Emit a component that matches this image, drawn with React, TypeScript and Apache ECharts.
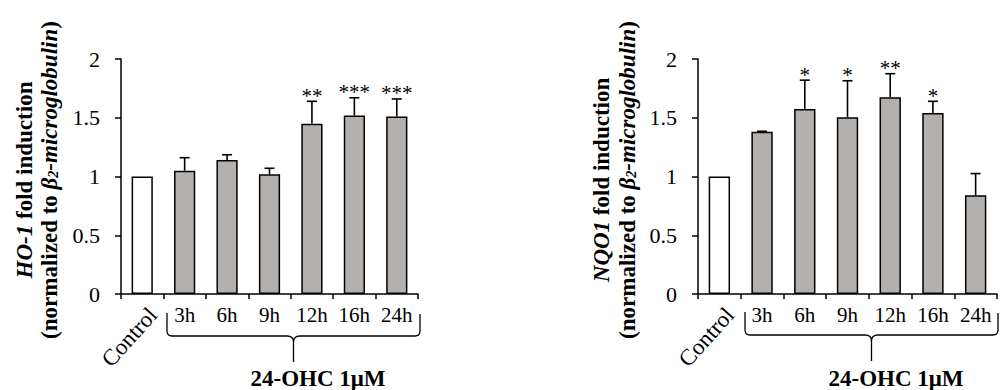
import React, { useEffect, useRef } from "react";
import * as echarts from "echarts";

const categories = ["Control", "3h", "6h", "9h", "12h", "16h", "24h"];
const ho1Means = [1.0, 1.05, 1.14, 1.02, 1.45, 1.52, 1.51];
const ho1Errors = [0, 0.11, 0.045, 0.05, 0.19, 0.15, 0.15];
const ho1Stars = ["", "", "", "", "**", "***", "***"];
const nqo1Means = [1.0, 1.38, 1.575, 1.505, 1.675, 1.54, 0.84];
const nqo1Errors = [0, 0.005, 0.245, 0.31, 0.2, 0.1, 0.185];
const nqo1Stars = ["", "", "*", "*", "**", "*", ""];
const yMin = 0;
const yMax = 2;
const yStep = 0.5;
const groupLabel = "24-OHC 1\u03bcM";

const FONT = "'Liberation Serif', 'Times New Roman', serif";
const BAR_GRAY = "#b4b0ae";

const bracePath =
  "M0,0 L0,18 Q0,23 5,23 L120,23 Q126.5,23 126.5,29 L126.5,49 M126.5,29 Q126.5,23 133,23 L248,23 Q253,23 253,18 L253,1";
echarts.graphic.registerShape("brace", echarts.graphic.extendPath(bracePath, {}));

function makeErrorSeries(means: number[], errors: number[], stars: string[], axisIdx: number) {
  return {
    type: "custom",
    xAxisIndex: axisIdx,
    yAxisIndex: axisIdx,
    z: 5,
    data: categories.map((_, i) => [i, means[i], errors[i]]),
    renderItem: (params: any, api: any) => {
      const idx = api.value(0);
      const mean = api.value(1);
      const err = api.value(2);
      const base = api.coord([idx, mean]);
      const top = api.coord([idx, mean + err]);
      const children: any[] = [];
      if (err > 0) {
        children.push({
          type: "line",
          shape: { x1: base[0], y1: base[1], x2: top[0], y2: top[1] },
          style: { stroke: "#000", lineWidth: 1.6 },
        });
        children.push({
          type: "line",
          shape: { x1: top[0] - 5, y1: top[1], x2: top[0] + 5, y2: top[1] },
          style: { stroke: "#000", lineWidth: 1.6 },
        });
      }
      const s = stars[idx];
      if (s) {
        children.push({
          type: "text",
          x: top[0],
          y: top[1] + 5,
          style: {
            text: s,
            font: `21px ${FONT}`,
            fill: "#000",
            align: "center",
            verticalAlign: "bottom",
          },
        });
      }
      return { type: "group", children };
    },
  };
}

function makeBarSeries(means: number[], axisIdx: number) {
  return {
    type: "bar",
    xAxisIndex: axisIdx,
    yAxisIndex: axisIdx,
    barWidth: "50%",
    data: means.map((v, i) => ({
      value: v,
      itemStyle: {
        color: i === 0 ? "#ffffff" : BAR_GRAY,
        borderColor: "#000",
        borderWidth: 1.5,
      },
    })),
  };
}

const richTitle = {
  b: { fontFamily: FONT, fontWeight: "bold", fontSize: 23, color: "#000" },
  bi: { fontFamily: FONT, fontWeight: "bold", fontStyle: "italic", fontSize: 23, color: "#000" },
  sub: {
    fontFamily: FONT,
    fontWeight: "bold",
    fontStyle: "italic",
    fontSize: 14,
    color: "#000",
    verticalAlign: "bottom",
    lineHeight: 14,
  },
};

function yTitle(x1: number, x2: number, yc: number, gene: string) {
  return [
    {
      type: "text",
      x: x1,
      y: yc,
      rotation: Math.PI / 2,
      style: {
        text: `{bi|${gene}}{b| fold induction}`,
        rich: richTitle,
        align: "center",
        verticalAlign: "middle",
      },
    },
    {
      type: "text",
      x: x2,
      y: yc,
      rotation: Math.PI / 2,
      style: {
        text: "{b|(normalized to }{bi|\u03b2}{sub|2}{bi|-microglobulin}{b|)}",
        rich: richTitle,
        align: "center",
        verticalAlign: "middle",
      },
    },
  ];
}

function xAxisCfg(gridIndex: number) {
  return {
    type: "category",
    gridIndex,
    data: categories,
    axisLine: { lineStyle: { color: "#000", width: 1.5 } },
    axisTick: { show: true, length: 5, lineStyle: { color: "#000", width: 1.5 } },
    axisLabel: {
      interval: 0,
      margin: 10,
      fontFamily: FONT,
      fontSize: 21,
      color: "#000",
      formatter: (v: string) => (v === categories[0] ? "" : v),
    },
  };
}

function yAxisCfg(gridIndex: number) {
  return {
    type: "value",
    gridIndex,
    min: yMin,
    max: yMax,
    interval: yStep,
    axisLine: { show: true, lineStyle: { color: "#000", width: 1.5 } },
    axisTick: { show: true, length: 6, lineStyle: { color: "#000", width: 1.5 } },
    splitLine: { show: false },
    axisLabel: { margin: 21, fontFamily: FONT, fontSize: 22, color: "#000" },
  };
}

function controlLabel(x: number, y: number) {
  return {
    type: "text",
    x,
    y,
    rotation: (48 * Math.PI) / 180,
    style: { text: categories[0], font: `23px ${FONT}`, fill: "#000", align: "right", verticalAlign: "middle" },
  };
}

export default function App() {
  const ref = useRef<HTMLDivElement>(null);
  useEffect(() => {
    document.body.style.margin = "0";
    if (!ref.current) return;
    const chart = echarts.init(ref.current, undefined, { renderer: "svg" });
    const graphic: any[] = [
      ...yTitle(24, 49, 180, "HO-1"),
      ...yTitle(601, 627, 180, "NQO1"),
      controlLabel(153, 311),
      controlLabel(730, 311),
      { type: "brace", x: 167, y: 313, style: { stroke: "#000", lineWidth: 1.3, fill: null } },
      { type: "brace", x: 745, y: 312, style: { stroke: "#000", lineWidth: 1.3, fill: null } },
      {
        type: "text",
        x: 318,
        y: 378,
        style: { text: groupLabel, font: `bold 23px ${FONT}`, fill: "#000", align: "center", verticalAlign: "middle" },
      },
      {
        type: "text",
        x: 896,
        y: 378,
        style: { text: groupLabel, font: `bold 23px ${FONT}`, fill: "#000", align: "center", verticalAlign: "middle" },
      },
    ];
    chart.setOption({
      animation: false,
      backgroundColor: "#fff",
      grid: [
        { left: 121, top: 59, width: 297, height: 235 },
        { left: 698, top: 59, width: 299, height: 235 },
      ],
      xAxis: [xAxisCfg(0), xAxisCfg(1)],
      yAxis: [yAxisCfg(0), yAxisCfg(1)],
      series: [
        makeBarSeries(ho1Means, 0),
        makeErrorSeries(ho1Means, ho1Errors, ho1Stars, 0),
        makeBarSeries(nqo1Means, 1),
        makeErrorSeries(nqo1Means, nqo1Errors, nqo1Stars, 1),
      ],
      graphic,
    });
    return () => chart.dispose();
  }, []);
  return <div ref={ref} style={{ width: 1007, height: 390 }} />;
}
